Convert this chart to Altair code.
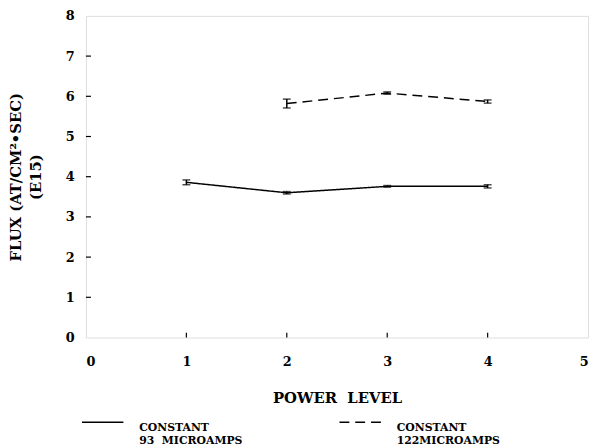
import altair as alt
import pandas as pd

# ---- data ----
power_93 = [1, 2, 3, 4]
flux_93 = [3.86, 3.60, 3.76, 3.76]
err_93 = [0.06, 0.03, 0.02, 0.04]

power_122 = [2, 3, 4]
flux_122 = [5.82, 6.08, 5.87]
err_122 = [0.11, 0.03, 0.04]

series_names = ["CONSTANT|93\u00a0\u00a0MICROAMPS", "CONSTANT|122MICROAMPS"]
x_ticks = [0, 1, 2, 3, 4, 5]
y_ticks = [0, 1, 2, 3, 4, 5, 6, 7, 8]

rows = []
for p, f, e in zip(power_93, flux_93, err_93):
    rows.append({"power": p, "flux": f, "lo": f - e, "hi": f + e, "series": series_names[0]})
for p, f, e in zip(power_122, flux_122, err_122):
    rows.append({"power": p, "flux": f, "lo": f - e, "hi": f + e, "series": series_names[1]})
df = pd.DataFrame(rows)

FONT = "DejaVu Serif"

xscale = alt.Scale(domain=[0, 5], nice=False, zero=False)
yscale = alt.Scale(domain=[0, 8], nice=False, zero=False)

x_axis = alt.Axis(
    values=x_ticks, format="d", tickSize=0, domain=False, grid=False, labelPadding=18,
    labelFont=FONT, labelFontWeight="bold", labelFontSize=13, labelColor="black",
    title="POWER\u00a0\u00a0LEVEL", titleFont=FONT, titleFontWeight="bold", titleFontSize=15,
    titleColor="black", titleY=61, titleBaseline="middle",
)
y_axis = alt.Axis(
    values=y_ticks, format="d", tickSize=0, domain=False, grid=False, labelPadding=12,
    labelFont=FONT, labelFontWeight="bold", labelFontSize=13, labelColor="black",
    title=["FLUX (AT/CM\u00b2\u2022SEC)", "(E15)"], titleFont=FONT, titleFontWeight="bold",
    titleFontSize=15, titleColor="black", titleX=-71, titleY=163, titleAngle=270,
    titleBaseline="middle", titleAlign="center", titleLineHeight=20,
)

dash = alt.StrokeDash(
    "series:N",
    scale=alt.Scale(domain=series_names, range=[[1, 0], [10, 6]]),
    legend=alt.Legend(
        title=None, orient="none", direction="horizontal", legendX=-5, legendY=390,
        symbolType="stroke", symbolSize=1764, symbolStrokeWidth=1.5, symbolStrokeColor="black",
        labelExpr="split(datum.label, '|')", labelFont=FONT, labelFontWeight="bold",
        labelFontSize=11, labelColor="black", labelOffset=15, columnPadding=95,
        labelLimit=200, labelBaseline="top",
    ),
)

base = alt.Chart(df)

lines = base.mark_line(color="black", strokeWidth=1.5).encode(
    x=alt.X("power:Q", scale=xscale, axis=x_axis),
    y=alt.Y("flux:Q", scale=yscale, axis=y_axis),
    strokeDash=dash,
    detail="series:N",
)

bars = base.mark_rule(color="black", strokeWidth=1.5).encode(
    x="power:Q", y="lo:Q", y2="hi:Q"
)
caps_lo = base.mark_tick(orient="horizontal", color="black", size=8, thickness=1.5).encode(
    x="power:Q", y="lo:Q"
)
caps_hi = base.mark_tick(orient="horizontal", color="black", size=8, thickness=1.5).encode(
    x="power:Q", y="hi:Q"
)

# inward tick marks
ytick_df = pd.DataFrame({"v": y_ticks[1:-1], "a": 0.0, "b": 0.05})
xtick_df = pd.DataFrame({"v": x_ticks[1:-1], "a": 0.0, "b": 0.12})
yticks = alt.Chart(ytick_df).mark_rule(color="black", strokeWidth=1.2).encode(
    y="v:Q", x="a:Q", x2="b:Q"
)
xticks = alt.Chart(xtick_df).mark_rule(color="black", strokeWidth=1.2).encode(
    x="v:Q", y="a:Q", y2="b:Q"
)

chart = (
    alt.layer(lines, bars, caps_lo, caps_hi, yticks, xticks)
    .properties(
        width=509, height=326,
        autosize=alt.AutoSizeParams(type="none"),
        padding={"left": 79, "top": 5, "right": 5, "bottom": 109},
    )
    .configure_view(stroke="black", strokeWidth=1.5)
    .configure(background="white")
)

chart.save("out.html", embed_options={"renderer": "svg", "actions": False})
